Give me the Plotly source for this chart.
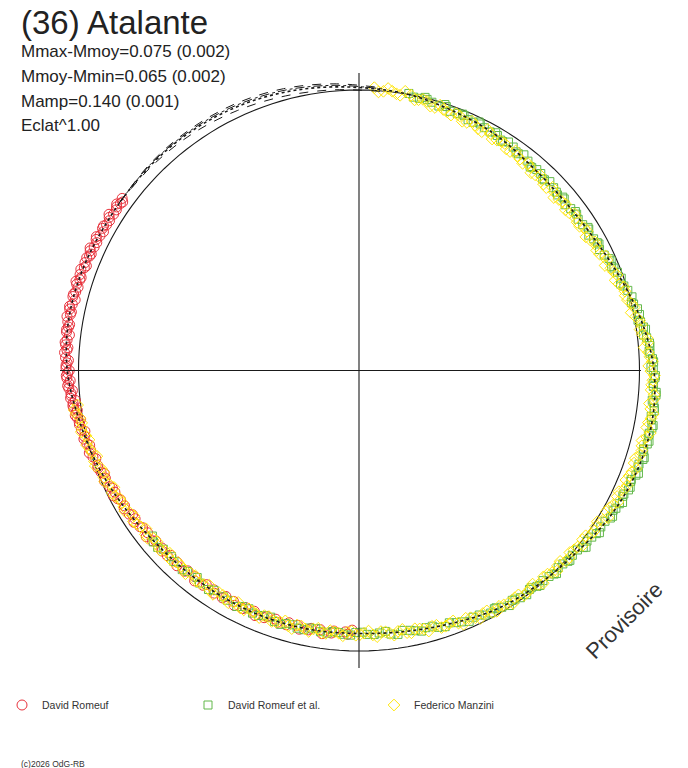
import numpy as np
import plotly.graph_objects as go

# ---------------- data (phase in degrees, dm = brightness offset from mean, mag) -------------
red_phase = [306, 305, 304, 302.5, 301.5, 300, 299, 297.5, 296.5, 295,
             294, 293, 291.5, 290.5, 289, 288, 287, 285.5, 284.5, 283,
             282, 281, 279.5, 278.5, 277.5, 276, 275, 274, 272.5, 271.5,
             270.5, 269.5, 268.5, 267.5, 266.5, 265.5, 264.5, 263.5, 262.5, 261.5,
             260.5, 259.5, 258, 256.5, 255, 253.5, 252, 250, 248.5, 247,
             245, 243.5, 242, 240, 238, 236.5, 234.5, 232.5, 230.5, 228,
             226, 223.5, 221, 218.5, 216, 213.5, 211, 208.5, 206, 203.5,
             201, 198.5, 196, 193.5, 191, 188.5, 186, 183, 181.5]
red_dm = [0.049, 0.043, 0.048, 0.042, 0.050, 0.044, 0.051, 0.046, 0.053, 0.047,
          0.055, 0.049, 0.056, 0.051, 0.058, 0.052, 0.059, 0.054, 0.060, 0.055,
          0.061, 0.054, 0.059, 0.053, 0.058, 0.052, 0.056, 0.049, 0.053, 0.046,
          0.050, 0.043, 0.047, 0.040, 0.041, 0.034, 0.037, 0.029, 0.029, 0.022,
          0.021, 0.016, 0.013, 0.007, 0.005, -0.002, -0.003, -0.010, -0.013, -0.020,
          -0.022, -0.031, -0.029, -0.039, -0.038, -0.048, -0.046, -0.056, -0.051, -0.061,
          -0.056, -0.065, -0.058, -0.068, -0.060, -0.070, -0.061, -0.071, -0.062, -0.072,
          -0.063, -0.073, -0.064, -0.074, -0.065, -0.074, -0.066, -0.075, -0.083]
red_phase_b = [305.5, 304.5, 303.5, 302, 301, 299.5, 298.5, 297, 296, 294.5,
               293.5, 292.5, 291, 290, 288.5, 287.5, 286.5, 285, 284, 282.5,
               281.5, 280.5, 279, 278, 277, 275.5, 274.5, 273.5, 272, 271,
               270, 269, 268, 267, 266, 265, 264, 263, 262, 261,
               260, 259, 257.5, 256, 254.5, 253, 251.5, 249.5, 248, 246.5,
               244.5, 243, 241.5, 239.5, 237.5, 236, 234, 232, 230, 227.5,
               225.5, 223, 220.5, 218, 215.5, 213, 210.5, 208, 205.5, 203,
               200.5, 198, 195.5, 193, 190.5, 188, 185.5, 182.5]
red_dm_b = [0.039, 0.054, 0.042, 0.057, 0.042, 0.052, 0.041, 0.057, 0.045, 0.060,
            0.046, 0.057, 0.046, 0.062, 0.050, 0.065, 0.050, 0.060, 0.048, 0.064,
            0.052, 0.066, 0.050, 0.059, 0.045, 0.059, 0.046, 0.058, 0.041, 0.050,
            0.037, 0.049, 0.034, 0.045, 0.027, 0.034, 0.019, 0.031, 0.016, 0.027,
            0.009, 0.017, 0.001, 0.012, -0.004, 0.006, -0.012, -0.007, -0.023, -0.012,
            -0.029, -0.019, -0.037, -0.032, -0.048, -0.036, -0.052, -0.042, -0.061, -0.053,
            -0.067, -0.054, -0.068, -0.054, -0.070, -0.060, -0.073, -0.058, -0.071, -0.057,
            -0.072, -0.063, -0.075, -0.060, -0.073, -0.059, -0.075, -0.066]

green_phase = [10.2, 12.5, 14.1, 16.8, 18.3, 20.9, 22.4, 24.7, 26.2, 28.8,
               30.5, 32.1, 34.6, 36.3, 38.9, 40.4, 42.7, 44.2, 46.8, 48.5,
               50.1, 52.6, 54.3, 56.9, 58.4, 60.7, 62.2, 64.8, 66.5, 68.1,
               70.6, 72.3, 74.9, 76.4, 78.7, 80.2, 81.8, 83.5, 85.1, 86.6,
               88.3, 89.9, 91.4, 93.1, 94.7, 96.2, 97.8, 99.5, 101.1, 102.6,
               104.3, 105.9, 107.4, 109.1, 110.7, 112.2, 113.9, 115.5, 117.1, 118.8,
               120.4, 122.9, 124.5, 126.8, 128.3, 130.9, 132.4, 134.7, 136.2, 138.8,
               140.5, 142.1, 144.6, 146.3, 148.9, 150.4, 152.7, 155.2, 157.8, 160.3,
               162.9, 165.4, 167.8, 170.5, 173.1, 175.6, 178.2, 180.7, 183.3, 185.8,
               188.4, 190.9, 193.5, 196.1, 198.6, 201.2, 203.7, 206.3, 209.8, 213.4,
               216.9, 220.5, 224.1, 227.6, 230.2]
green_dm = [0.004, -0.007, -0.004, -0.017, -0.010, -0.021, -0.019, -0.029, -0.023, -0.033,
            -0.031, -0.041, -0.036, -0.046, -0.046, -0.056, -0.050, -0.058, -0.054, -0.062,
            -0.052, -0.056, -0.050, -0.054, -0.043, -0.046, -0.037, -0.038, -0.022, -0.023,
            -0.010, -0.010, 0.009, 0.008, 0.022, 0.021, 0.036, 0.036, 0.046, 0.044,
            0.057, 0.055, 0.062, 0.057, 0.070, 0.064, 0.070, 0.064, 0.072, 0.064,
            0.068, 0.060, 0.068, 0.059, 0.062, 0.052, 0.057, 0.047, 0.048, 0.038,
            0.044, 0.030, 0.030, 0.017, 0.021, 0.007, 0.010, -0.001, 0.006, -0.005,
            -0.003, -0.012, -0.007, -0.017, -0.016, -0.026, -0.021, -0.035, -0.036, -0.050,
            -0.047, -0.059, -0.057, -0.068, -0.060, -0.069, -0.066, -0.074, -0.065, -0.072,
            -0.066, -0.073, -0.062, -0.069, -0.063, -0.070, -0.062, -0.069, -0.063, -0.069,
            -0.059, -0.065, -0.058, -0.062, -0.051]
green_phase_b = [11.3, 13.6, 15.2, 17.9, 19.4, 22.0, 23.5, 25.8, 27.3, 29.9,
                 31.6, 33.2, 35.7, 37.4, 40.0, 41.5, 43.8, 45.3, 47.9, 49.6,
                 51.2, 53.7, 55.4, 58.0, 59.5, 61.8, 63.3, 65.9, 67.6, 69.2,
                 71.7, 73.4, 76.0, 77.5, 79.8, 81.3, 82.9, 84.6, 86.2, 87.7,
                 89.4, 91.0, 92.5, 94.2, 95.8, 97.3, 98.9, 100.6, 102.2, 103.7,
                 105.4, 107.0, 108.5, 110.2, 111.8, 113.3, 115.0, 116.6, 118.2, 119.9,
                 121.5, 124.0, 125.6, 127.9, 129.4, 132.0, 133.5, 135.8, 137.3, 139.9,
                 141.6, 143.2, 145.7, 147.4, 150.0, 151.5, 153.8, 156.3, 158.9, 161.4,
                 164.0, 166.5, 168.9, 171.6, 174.2, 176.7, 179.3, 181.8, 184.4, 186.9,
                 189.5, 192.0, 194.6, 197.2, 199.7, 202.3, 204.8, 207.4, 210.9, 214.5,
                 218.0, 221.6, 225.2, 228.7, 231.3]
green_dm_b = [-0.007, 0.002, -0.010, -0.004, -0.023, -0.016, -0.028, -0.018, -0.029, -0.025,
              -0.040, -0.030, -0.045, -0.036, -0.057, -0.049, -0.060, -0.048, -0.058, -0.052,
              -0.064, -0.048, -0.057, -0.042, -0.055, -0.040, -0.045, -0.026, -0.029, -0.016,
              -0.020, 0.000, 0.001, 0.019, 0.012, 0.029, 0.025, 0.045, 0.041, 0.053,
              0.046, 0.064, 0.056, 0.070, 0.057, 0.069, 0.061, 0.075, 0.066, 0.072,
              0.059, 0.071, 0.059, 0.069, 0.051, 0.059, 0.047, 0.057, 0.044, 0.048,
              0.032, 0.038, 0.023, 0.029, 0.009, 0.013, 0.002, 0.011, -0.001, 0.002,
              -0.013, -0.002, -0.015, -0.006, -0.026, -0.018, -0.032, -0.026, -0.041, -0.041,
              -0.058, -0.050, -0.063, -0.055, -0.073, -0.064, -0.075, -0.063, -0.071, -0.064,
              -0.075, -0.062, -0.071, -0.059, -0.074, -0.063, -0.072, -0.059, -0.067, -0.059,
              -0.071, -0.057, -0.065, -0.050, -0.063]

yellow_phase = [3.1, 5.0, 6.8, 8.5, 10.7, 12.4, 14.2, 16.1, 17.9, 19.8,
                21.6, 23.5, 25.3, 27.2, 29.0, 30.9, 32.7, 34.6, 36.4, 38.3,
                40.1, 42.0, 43.8, 45.7, 47.5, 49.4, 51.2, 53.1, 54.9, 56.8,
                58.6, 60.5, 62.3, 64.2, 66.0, 67.9, 69.7, 71.6, 73.4, 75.3,
                77.1, 79.0, 80.8, 82.7, 84.5, 86.4, 88.2, 90.1, 91.9, 93.8,
                95.6, 97.5, 99.3, 101.2, 103.0, 104.9, 106.7, 108.6, 110.4, 112.3,
                114.1, 116.0, 117.8, 119.7, 121.5, 123.4, 125.2, 127.1, 128.9, 130.8,
                132.6, 134.5, 136.3, 138.2, 140.0, 141.9, 143.7, 145.6, 147.4, 149.3,
                151.1, 153.0, 154.8, 156.7, 158.5, 160.4, 162.2, 164.1, 165.9, 167.8,
                169.6, 171.5, 173.3, 175.2, 177.0, 178.9, 180.7, 182.6, 184.4, 186.3,
                188.1, 190.0, 191.8, 193.7, 195.5, 197.4, 199.2, 201.1, 202.9, 204.8,
                206.6, 208.5, 210.3, 212.2, 214.0, 215.9, 217.7, 219.6, 221.4, 223.3,
                225.1, 227.0, 228.8, 230.7, 232.5, 234.4, 236.2, 238.1, 239.9, 241.8,
                243.6, 245.5, 247.3, 249.2, 251.0, 252.9, 254.7, 256.6, 258.4, 260.3,
                262.1]
yellow_dm = [0.011, -0.001, 0.003, -0.009, -0.001, -0.013, -0.012, -0.027, -0.025, -0.036,
             -0.027, -0.040, -0.036, -0.048, -0.038, -0.048, -0.043, -0.058, -0.055, -0.066,
             -0.058, -0.069, -0.065, -0.075, -0.064, -0.070, -0.061, -0.071, -0.063, -0.068,
             -0.053, -0.060, -0.049, -0.053, -0.036, -0.035, -0.021, -0.026, -0.012, -0.012,
             0.007, 0.005, 0.022, 0.020, 0.038, 0.038, 0.052, 0.045, 0.054, 0.049,
             0.063, 0.055, 0.062, 0.051, 0.060, 0.049, 0.053, 0.039, 0.042, 0.032,
             0.041, 0.027, 0.029, 0.016, 0.023, 0.012, 0.015, -0.001, 0.002, -0.008,
             0.003, -0.008, -0.004, -0.015, -0.005, -0.013, -0.006, -0.020, -0.016, -0.025,
             -0.017, -0.031, -0.029, -0.043, -0.036, -0.047, -0.042, -0.058, -0.056, -0.065,
             -0.056, -0.067, -0.063, -0.074, -0.063, -0.071, -0.063, -0.074, -0.068, -0.075,
             -0.062, -0.072, -0.066, -0.074, -0.062, -0.068, -0.059, -0.071, -0.065, -0.072,
             -0.060, -0.069, -0.063, -0.072, -0.059, -0.065, -0.057, -0.068, -0.061, -0.067,
             -0.054, -0.063, -0.055, -0.061, -0.045, -0.048, -0.036, -0.044, -0.034, -0.037,
             -0.020, -0.025, -0.015, -0.019, -0.003, -0.005, 0.008, 0.001, 0.011, 0.010,
             0.028]
yellow_phase_b = [4.0, 5.9, 7.7, 9.4, 11.6, 13.3, 15.1, 17.0, 18.8, 20.7,
                  22.5, 24.4, 26.2, 28.1, 29.9, 31.8, 33.6, 35.5, 37.3, 39.2,
                  41.0, 42.9, 44.7, 46.6, 48.4, 50.3, 52.1, 54.0, 55.8, 57.7,
                  59.5, 61.4, 63.2, 65.1, 66.9, 68.8, 70.6, 72.5, 74.3, 76.2,
                  78.0, 79.9, 81.7, 83.6, 85.4, 87.3, 89.1, 91.0, 92.8, 94.7,
                  96.5, 98.4, 100.2, 102.1, 103.9, 105.8, 107.6, 109.5, 111.3, 113.2,
                  115.0, 116.9, 118.7, 120.6, 122.4, 124.3, 126.1, 128.0, 129.8, 131.7,
                  133.5, 135.4, 137.2, 139.1, 140.9, 142.8, 144.6, 146.5, 148.3, 150.2,
                  152.0, 153.9, 155.7, 157.6, 159.4, 161.3, 163.1, 165.0, 166.8, 168.7,
                  170.5, 172.4, 174.2, 176.1, 177.9, 179.8, 181.6, 183.5, 185.3, 187.2,
                  189.0, 190.9, 192.7, 194.6, 196.4, 198.3, 200.1, 202.0, 203.8, 205.7,
                  207.5, 209.4, 211.2, 213.1, 214.9, 216.8, 218.6, 220.5, 222.3, 224.2,
                  226.0, 227.9, 229.7, 231.6, 233.4, 235.3, 237.1, 239.0, 240.8, 242.7,
                  244.5, 246.4, 248.2, 250.1, 251.9, 253.8, 255.6, 257.5, 259.3, 261.2,
                  263.0]
yellow_dm_b = [-0.005, 0.012, -0.005, 0.010, -0.017, -0.008, -0.027, -0.012, -0.029, -0.023,
               -0.043, -0.027, -0.044, -0.029, -0.054, -0.043, -0.058, -0.043, -0.059, -0.053,
               -0.074, -0.056, -0.073, -0.056, -0.080, -0.065, -0.076, -0.056, -0.067, -0.055,
               -0.069, -0.047, -0.057, -0.034, -0.052, -0.030, -0.036, -0.011, -0.016, 0.001,
               -0.009, 0.018, 0.014, 0.039, 0.022, 0.043, 0.037, 0.060, 0.050, 0.062,
               0.047, 0.068, 0.054, 0.070, 0.044, 0.054, 0.038, 0.054, 0.038, 0.045,
               0.025, 0.040, 0.021, 0.035, 0.007, 0.017, 0.000, 0.014, -0.002, 0.005,
               -0.013, 0.005, -0.012, 0.004, -0.021, -0.008, -0.021, -0.005, -0.020, -0.012,
               -0.033, -0.018, -0.037, -0.024, -0.052, -0.042, -0.057, -0.043, -0.060, -0.052,
               -0.072, -0.054, -0.071, -0.055, -0.079, -0.066, -0.078, -0.059, -0.072, -0.062,
               -0.078, -0.059, -0.074, -0.055, -0.078, -0.063, -0.074, -0.056, -0.069, -0.059,
               -0.076, -0.056, -0.071, -0.053, -0.075, -0.060, -0.072, -0.053, -0.065, -0.054,
               -0.070, -0.050, -0.063, -0.042, -0.061, -0.043, -0.051, -0.029, -0.038, -0.024,
               -0.036, -0.012, -0.023, 0.000, -0.019, 0.000, -0.007, 0.016, 0.007, 0.023,
               0.012]

fit_phase = [0, 10, 20, 30, 40, 50, 60, 70, 80, 90, 100, 110, 120, 130, 140, 150, 160, 170, 180,
             190, 200, 210, 220, 230, 240, 250, 260, 270, 280, 290, 300, 310, 320, 330, 340, 350, 360]
fit_dm = [0.010, 0.000, -0.018, -0.032, -0.052, -0.057, -0.045, -0.015, 0.025, 0.058, 0.068,
          0.060, 0.040, 0.012, -0.005, -0.020, -0.045, -0.062, -0.070, -0.068, -0.066, -0.065,
          -0.063, -0.055, -0.035, -0.010, 0.015, 0.045, 0.057, 0.055, 0.048, 0.047, 0.048,
          0.044, 0.036, 0.024, 0.010]

env_phase = [305, 315, 325, 335, 345, 355, 365]
env_up1 = [0.048, 0.054, 0.056, 0.054, 0.045, 0.029, 0.012]
env_up2 = [0.048, 0.051, 0.051, 0.047, 0.038, 0.023, 0.008]
env_low = [0.048, 0.042, 0.036, 0.026, 0.015, 0.005, -0.002]

names = ["David Romeuf", "David Romeuf et al.", "Federico Manzini"]
stats_lines = ["Mmax-Mmoy=0.075 (0.002)", "Mmoy-Mmin=0.065 (0.002)",
               "Mamp=0.140 (0.001)", "Eclat^1.00"]

# ---------------- figure ----------------
W, H = 688, 768
CX, CY, RPX = 359, 370.5, 300
R0 = 280.5 / 250.0
RMIN, RMAX = -R0, -R0 + RPX / 250.0

fig = go.Figure()
black = "#1a1a1a"

circ_t = np.linspace(0, 360, 181)
fig.add_trace(go.Scatterpolar(theta=circ_t, r=np.zeros_like(circ_t), mode="lines",
                              line=dict(color=black, width=1.1), showlegend=False, hoverinfo="skip"))

RED, GREEN, YELLOW = "#e8323c", "#62b84a", "#ffe60a"
fig.add_trace(go.Scatterpolar(theta=red_phase + red_phase_b, r=red_dm + red_dm_b,
                              mode="markers", name=names[0],
                              marker=dict(symbol="circle-open", size=10, color=RED,
                                          line=dict(width=1, color=RED))))
fig.add_trace(go.Scatterpolar(theta=green_phase + green_phase_b, r=green_dm + green_dm_b,
                              mode="markers", name=names[1],
                              marker=dict(symbol="square-open", size=8, color=GREEN,
                                          line=dict(width=1, color=GREEN))))
fig.add_trace(go.Scatterpolar(theta=yellow_phase + yellow_phase_b, r=yellow_dm + yellow_dm_b,
                              mode="markers", name=names[2],
                              marker=dict(symbol="diamond-open", size=9, color=YELLOW,
                                          line=dict(width=1, color=YELLOW))))

# axis cross drawn over the points
fig.add_trace(go.Scatterpolar(theta=[0, 180], r=[0.068, 0.068], mode="lines",
                              line=dict(color=black, width=1.1), showlegend=False, hoverinfo="skip"))
fig.add_trace(go.Scatterpolar(theta=[270, 90], r=[0.074, 0.006], mode="lines",
                              line=dict(color=black, width=1.1), showlegend=False, hoverinfo="skip"))

for env, dash in [(env_up1, "dash"), (env_up2, "dashdot"), (env_low, "dash")]:
    fig.add_trace(go.Scatterpolar(theta=env_phase, r=env, mode="lines",
                                  line=dict(color=black, width=1, dash=dash, shape="spline"),
                                  showlegend=False, hoverinfo="skip"))
fig.add_trace(go.Scatterpolar(theta=fit_phase, r=fit_dm, mode="lines",
                              line=dict(color=black, width=1.6, dash="dot", shape="spline"),
                              showlegend=False, hoverinfo="skip"))

ann = []
font = "Liberation Sans, Arial, sans-serif"
tc = "#222222"
ann.append(dict(text="(36) Atalante", x=19 / W, y=1 - 2 / H, xref="paper", yref="paper",
                xanchor="left", yanchor="top", showarrow=False,
                font=dict(family=font, size=33, color=tc)))
for i, s in enumerate(stats_lines):
    top = 40 + 24.8 * i
    ann.append(dict(text=s, x=19 / W, y=1 - top / H, xref="paper", yref="paper",
                    xanchor="left", yanchor="top", showarrow=False,
                    font=dict(family=font, size=17, color=tc)))
ann.append(dict(text="Provisoire", x=624 / W, y=1 - 620 / H, xref="paper", yref="paper",
                xanchor="center", yanchor="middle", showarrow=False, textangle=-45,
                font=dict(family=font, size=22, color="#333333")))
ann.append(dict(text="(c)2026 OdG-RB", x=19 / W, y=1 - 757 / H, xref="paper", yref="paper",
                xanchor="left", yanchor="top", showarrow=False,
                font=dict(family=font, size=8.5, color="#333333")))

fig.update_layout(
    width=W, height=H, margin=dict(l=0, r=0, t=0, b=0),
    paper_bgcolor="white", plot_bgcolor="white",
    polar=dict(
        domain=dict(x=[(CX - RPX) / W, (CX + RPX) / W],
                    y=[(H - CY - RPX) / H, (H - CY + RPX) / H]),
        bgcolor="white",
        radialaxis=dict(range=[RMIN, RMAX], visible=False, showgrid=False),
        angularaxis=dict(rotation=90, direction="clockwise", visible=False,
                         showgrid=False, showline=False),
    ),
    legend=dict(orientation="h", x=2 / W, xanchor="left", y=1 - 705 / H, yanchor="middle",
                entrywidth=141, entrywidthmode="pixels", bgcolor="rgba(0,0,0,0)",
                font=dict(family=font, size=10.5, color="#333333"), itemwidth=30),
    annotations=ann,
    showlegend=True,
)

fig.write_html("out.html", config={"displayModeBar": False},
               post_script="document.body.style.margin='0px';")
